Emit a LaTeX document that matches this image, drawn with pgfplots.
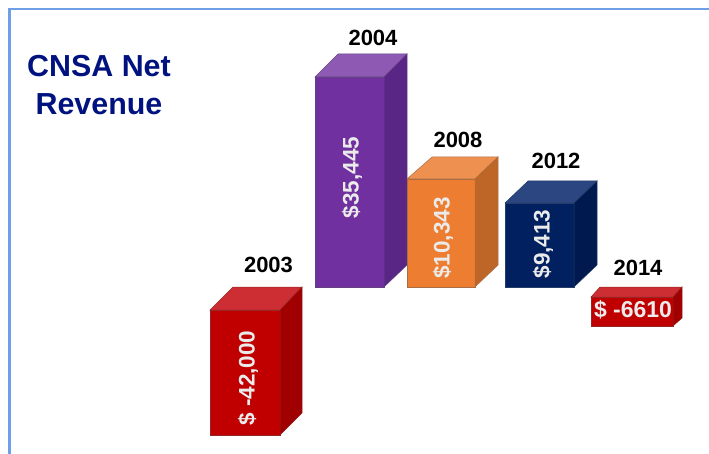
\documentclass[border=0pt]{standalone}
\usepackage{pgfplots}
\pgfplotsset{compat=1.18}
\usepackage{fontspec}
\setmainfont{Liberation Sans}
\definecolor{redF}{HTML}{C00000}\definecolor{redT}{HTML}{CC2E33}\definecolor{redS}{HTML}{A00000}
\definecolor{purF}{HTML}{7030A0}\definecolor{purT}{HTML}{8D59B3}\definecolor{purS}{HTML}{5A2686}
\definecolor{oraF}{HTML}{ED7D31}\definecolor{oraT}{HTML}{EE9050}\definecolor{oraS}{HTML}{BE6528}
\definecolor{navF}{HTML}{002060}\definecolor{navT}{HTML}{2B4680}\definecolor{navS}{HTML}{001A50}
\definecolor{frameB}{HTML}{6F9FE6}\definecolor{titleB}{HTML}{00127F}
\begin{document}
\begin{tikzpicture}
\begin{axis}[scale only axis,width=709pt,height=454pt,xmin=0,xmax=709,ymin=0,ymax=454,y dir=reverse,
  hide axis,clip=false,
  every axis plot/.append style={line width=0.5pt}]
\addplot[draw=none,forget plot] coordinates {(0,0)(709,454)};
% frame
\addplot[frameB,line width=2.4pt,line cap=rect] coordinates {(9.5,452.8)(9.5,9)(707.8,9)};
% 2003
\addplot[fill=redF,draw=redS!70!gray] coordinates {(210,310)(280,310)(280,435)(210,435)} --cycle;
\addplot[fill=redT,draw=redS!70!gray] coordinates {(210,310)(233,287)(302,287)(280,310)} --cycle;
\addplot[fill=redS,draw=redS!70!gray] coordinates {(280,310)(302,287)(302,413)(280,435)} --cycle;
% 2004
\addplot[fill=purF,draw=purS!70!gray] coordinates {(315,77)(384,77)(384,287)(315,287)} --cycle;
\addplot[fill=purT,draw=purS!70!gray] coordinates {(315,77)(338,54)(407,54)(384,77)} --cycle;
\addplot[fill=purS,draw=purS!70!gray] coordinates {(384,77)(407,54)(407,265)(384,287)} --cycle;
% 2008
\addplot[fill=oraF,draw=oraS!70!gray] coordinates {(407,179)(475,179)(475,287)(407,287)} --cycle;
\addplot[fill=oraT,draw=oraS!70!gray] coordinates {(407,179)(432,157)(498,157)(475,179)} --cycle;
\addplot[fill=oraS,draw=oraS!70!gray] coordinates {(475,179)(498,157)(498,265)(475,287)} --cycle;
% 2012
\addplot[fill=navF,draw=navF!70!gray] coordinates {(505,203)(574,203)(574,287)(505,287)} --cycle;
\addplot[fill=navT,draw=navF!70!gray] coordinates {(505,203)(528,181)(597,181)(574,203)} --cycle;
\addplot[fill=navS,draw=navF!70!gray] coordinates {(574,203)(597,181)(597,265)(574,287)} --cycle;
% 2014
\addplot[fill=redF,draw=redS!70!gray] coordinates {(591,297)(673,297)(673,326)(591,326)} --cycle;
\addplot[fill=redT,draw=redS!70!gray] coordinates {(591,297)(600,287)(682,287)(673,297)} --cycle;
\addplot[fill=redS,draw=redS!70!gray] coordinates {(673,297)(682,287)(682,318)(673,326)} --cycle;
% texts
\tikzset{yr/.style={font=\fontsize{22}{22}\selectfont\bfseries,text=black,inner sep=0pt},
         vl/.style={font=\fontsize{22.5}{22}\selectfont\bfseries,text=white!92!black,inner sep=0pt,rotate=90}}
\node[yr] at (axis cs:373,37.5) {2004};
\node[yr] at (axis cs:458,139.5) {2008};
\node[yr] at (axis cs:556,160.5) {2012};
\node[yr] at (axis cs:268.5,265) {2003};
\node[yr] at (axis cs:638,267.5) {2014};
\node[vl] at (axis cs:248,378) {\$ -42,000};
\node[vl] at (axis cs:352,177.5) {\$35,445};
\node[vl] at (axis cs:443,238) {\$10,343};
\node[vl] at (axis cs:543,244) {\$9,413};
\node[font=\fontsize{23}{23}\selectfont\bfseries,text=white!92!black,inner sep=0pt] at (axis cs:633,310) {\$ -6610};
\node[font=\fontsize{30.4}{38}\selectfont\bfseries,text=titleB,align=center,inner sep=0pt] at (axis cs:99,85) {CNSA Net\\Revenue};
\end{axis}
\end{tikzpicture}
\end{document}
